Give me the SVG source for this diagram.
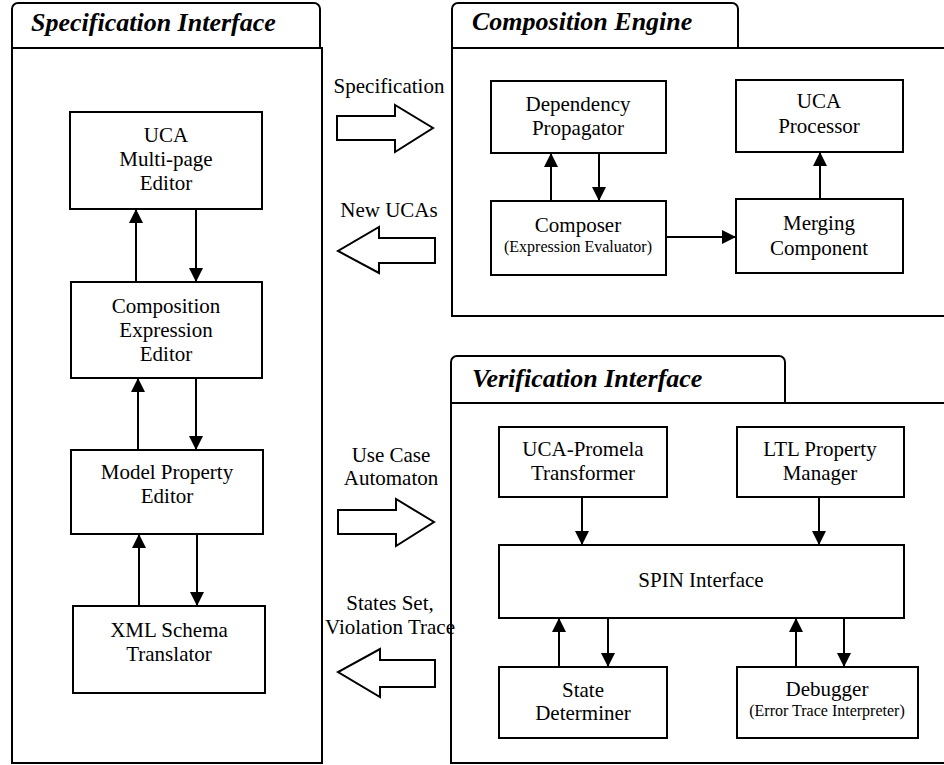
<svg xmlns="http://www.w3.org/2000/svg" width="944" height="765" viewBox="0 0 944 765">
  <style>
    .frame { fill: #fff; stroke: #000; stroke-width: 2; }
    .tab { fill: #fff; stroke: #000; stroke-width: 2; }
    .box { fill: #fff; stroke: #000; stroke-width: 2; }
    .title { font-family: "Liberation Serif", "Times New Roman", serif; font-weight: bold; font-style: italic; font-size: 26px; fill: #000; }
    .lbl { font-family: "Liberation Serif", "Times New Roman", serif; font-size: 21px; fill: #000; text-anchor: middle; }
    .sub { font-family: "Liberation Serif", "Times New Roman", serif; font-size: 16px; fill: #000; text-anchor: middle; }
    .link { fill: none; stroke: #000; stroke-width: 2; marker-end: url(#head); }
    .block { fill: #fff; stroke: #000; stroke-width: 2; stroke-linejoin: miter; }
  </style>
  <defs>
    <marker id="head" markerUnits="userSpaceOnUse" markerWidth="14" markerHeight="14" viewBox="0 0 14 14" refX="14" refY="7" orient="auto">
      <path d="M0,0 L14,7 L0,14 Z" fill="#000"/>
    </marker>
  </defs>

  <!-- Specification Interface container -->
  <g id="spec-interface">
    <rect class="tab" x="12" y="3" width="308" height="50" rx="6"/>
    <rect class="frame" x="12" y="48" width="310" height="715"/>
    <text class="title" x="31" y="31">Specification Interface</text>
  </g>

  <!-- Composition Engine container -->
  <g id="composition-engine">
    <rect class="tab" x="452" y="3" width="286" height="50" rx="6"/>
    <rect class="frame" x="452" y="48" width="500" height="268"/>
    <text class="title" x="472" y="30">Composition Engine</text>
  </g>

  <!-- Verification Interface container -->
  <g id="verification-interface">
    <rect class="tab" x="451" y="356" width="334" height="52" rx="6"/>
    <rect class="frame" x="451" y="403" width="500" height="360"/>
    <text class="title" x="472" y="387">Verification Interface</text>
  </g>

  <!-- Specification Interface components -->
  <g id="uca-editor">
    <rect class="box" x="70" y="112" width="192" height="97"/>
    <text class="lbl" x="166" y="142">UCA</text>
    <text class="lbl" x="166" y="166">Multi-page</text>
    <text class="lbl" x="166" y="190">Editor</text>
  </g>
  <g id="composition-expression-editor">
    <rect class="box" x="71" y="282" width="191" height="96"/>
    <text class="lbl" x="166" y="313">Composition</text>
    <text class="lbl" x="166" y="337">Expression</text>
    <text class="lbl" x="166" y="361">Editor</text>
  </g>
  <g id="model-property-editor">
    <rect class="box" x="71" y="450" width="192" height="84"/>
    <text class="lbl" x="167" y="479">Model Property</text>
    <text class="lbl" x="167" y="503">Editor</text>
  </g>
  <g id="xml-schema-translator">
    <rect class="box" x="73" y="606" width="192" height="87"/>
    <text class="lbl" x="169" y="637">XML Schema</text>
    <text class="lbl" x="169" y="661">Translator</text>
  </g>

  <!-- Composition Engine components -->
  <g id="dependency-propagator">
    <rect class="box" x="491" y="81" width="175" height="72"/>
    <text class="lbl" x="578" y="111">Dependency</text>
    <text class="lbl" x="578" y="135">Propagator</text>
  </g>
  <g id="uca-processor">
    <rect class="box" x="736" y="80" width="167" height="72"/>
    <text class="lbl" x="819" y="108">UCA</text>
    <text class="lbl" x="819" y="133">Processor</text>
  </g>
  <g id="composer">
    <rect class="box" x="491" y="201" width="175" height="74"/>
    <text class="lbl" x="578" y="232">Composer</text>
    <text class="sub" x="578" y="252">(Expression Evaluator)</text>
  </g>
  <g id="merging-component">
    <rect class="box" x="736" y="199" width="167" height="74"/>
    <text class="lbl" x="819" y="230">Merging</text>
    <text class="lbl" x="819" y="255">Component</text>
  </g>

  <!-- Verification Interface components -->
  <g id="uca-promela-transformer">
    <rect class="box" x="499" y="427" width="168" height="70"/>
    <text class="lbl" x="583" y="456">UCA-Promela</text>
    <text class="lbl" x="583" y="480">Transformer</text>
  </g>
  <g id="ltl-property-manager">
    <rect class="box" x="737" y="427" width="167" height="70"/>
    <text class="lbl" x="820" y="456">LTL Property</text>
    <text class="lbl" x="820" y="480">Manager</text>
  </g>
  <g id="spin-interface">
    <rect class="box" x="499" y="545" width="405" height="73"/>
    <text class="lbl" x="701" y="587">SPIN Interface</text>
  </g>
  <g id="state-determiner">
    <rect class="box" x="499" y="667" width="168" height="71"/>
    <text class="lbl" x="583" y="697">State</text>
    <text class="lbl" x="583" y="720">Determiner</text>
  </g>
  <g id="debugger">
    <rect class="box" x="737" y="667" width="181" height="71"/>
    <text class="lbl" x="827" y="696">Debugger</text>
    <text class="sub" x="827" y="716">(Error Trace Interpreter)</text>
  </g>

  <!-- Connectors -->
  <g id="connectors">
    <!-- Specification Interface -->
    <line class="link" x1="136" y1="282" x2="136" y2="209"/>
    <line class="link" x1="196" y1="209" x2="196" y2="282"/>
    <line class="link" x1="138" y1="450" x2="138" y2="378"/>
    <line class="link" x1="196" y1="378" x2="196" y2="450"/>
    <line class="link" x1="139" y1="606" x2="139" y2="534"/>
    <line class="link" x1="197" y1="534" x2="197" y2="606"/>

    <!-- Composition Engine -->
    <line class="link" x1="551" y1="201" x2="551" y2="153"/>
    <line class="link" x1="599" y1="153" x2="599" y2="201"/>
    <line class="link" x1="666" y1="237" x2="736" y2="237"/>
    <line class="link" x1="820" y1="199" x2="820" y2="152"/>

    <!-- Verification Interface -->
    <line class="link" x1="582" y1="497" x2="582" y2="545"/>
    <line class="link" x1="819" y1="497" x2="819" y2="545"/>
    <line class="link" x1="559" y1="667" x2="559" y2="618"/>
    <line class="link" x1="608" y1="618" x2="608" y2="667"/>
    <line class="link" x1="796" y1="667" x2="796" y2="618"/>
    <line class="link" x1="844" y1="618" x2="844" y2="667"/>

    <!-- Exchanges between the tools -->
    <polygon class="block" points="337,116 395,116 395,105 433,128 395,152 395,140 337,140"/>
    <text class="lbl" x="389" y="93">Specification</text>

    <polygon class="block" points="435,238 379,238 379,227 338,251 379,273 379,263 435,263"/>
    <text class="lbl" x="389" y="217">New UCAs</text>

    <polygon class="block" points="338,510 396,510 396,499 434,522 396,546 396,534 338,534"/>
    <text class="lbl" x="391" y="462">Use Case</text>
    <text class="lbl" x="391" y="485">Automaton</text>

    <polygon class="block" points="435,660 380,660 380,649 338,672 380,697 380,687 435,687"/>
    <text class="lbl" x="390" y="610">States Set,</text>
    <text class="lbl" x="390" y="634">Violation Trace</text>
  </g>
</svg>
